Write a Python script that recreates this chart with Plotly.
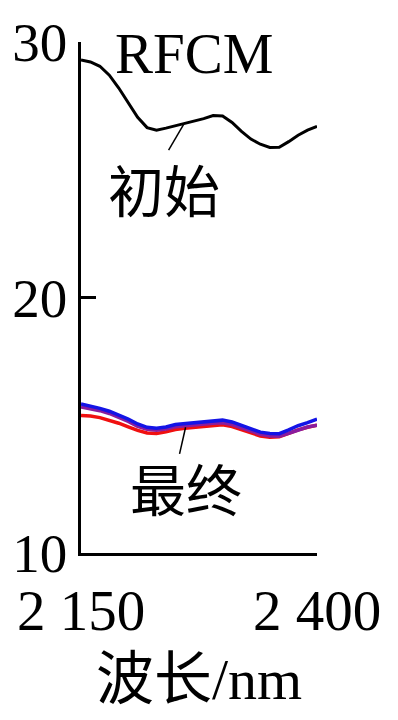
import plotly.graph_objects as go

wavelength = [2150, 2160, 2170, 2180, 2190, 2200, 2210, 2220, 2230, 2240, 2250, 2260, 2270,
              2280, 2290, 2300, 2310, 2320, 2330, 2340, 2350, 2360, 2370, 2380, 2390, 2400]
initial = [29.3, 29.22, 29.05, 28.7, 28.2, 27.6, 27.05, 26.65, 26.55, 26.63, 26.72, 26.8, 26.88,
           27.0, 27.12, 27.1, 26.85, 26.5, 26.2, 26.0, 25.87, 25.88, 26.1, 26.35, 26.55, 26.7]
final_blue = [15.83, 15.75, 15.66, 15.55, 15.41, 15.24, 15.05, 14.92, 14.88, 14.93, 15.03, 15.07, 15.1,
              15.14, 15.18, 15.2, 15.13, 15.0, 14.85, 14.73, 14.68, 14.67, 14.82, 14.98, 15.1, 15.24]
final_purple = [15.72, 15.66, 15.57, 15.46, 15.32, 15.15, 14.96, 14.84, 14.8, 14.85, 14.94, 14.98, 15.0,
                15.04, 15.08, 15.1, 15.03, 14.9, 14.76, 14.65, 14.58, 14.57, 14.68, 14.82, 14.93, 15.0]
final_red = [15.38, 15.36, 15.3, 15.2, 15.08, 14.94, 14.8, 14.7, 14.68, 14.74, 14.83, 14.88, 14.92,
             14.96, 15.0, 15.02, 14.95, 14.82, 14.68, 14.58, 14.53, 14.55, 14.68, 14.82, 14.92, 15.0]
x_ticks = [2150, 2400]
x_ticklabels = ["2 150", "2 400"]
y_ticks = [10, 20, 30]

FONT = "Liberation Serif, Noto Sans CJK SC, serif"

fig = go.Figure()
fig.add_trace(go.Scatter(x=wavelength, y=initial, mode="lines",
                         line=dict(color="black", width=3), showlegend=False))
fig.add_trace(go.Scatter(x=wavelength, y=final_red, mode="lines",
                         line=dict(color="#f01010", width=3.5), showlegend=False))
fig.add_trace(go.Scatter(x=wavelength, y=final_purple, mode="lines",
                         line=dict(color="#8a1c9e", width=3.5), showlegend=False))
fig.add_trace(go.Scatter(x=wavelength, y=final_blue, mode="lines",
                         line=dict(color="#1414e6", width=3.5), showlegend=False))

fig.add_annotation(x=2270, y=29.54, text="RFCM", showarrow=False,
                   font=dict(family=FONT, size=57, color="black"))
fig.add_annotation(x=2237.6, y=24.08, text="初始", showarrow=False,
                   font=dict(family=FONT, size=56, color="black"))
fig.add_annotation(x=2260.8, y=12.38, text="最终", showarrow=False,
                   font=dict(family=FONT, size=56, color="black"))
fig.add_shape(type="line", x0=2258.6, y0=26.77, x1=2242.8, y1=25.77,
              line=dict(color="black", width=1.5))
fig.add_shape(type="line", x0=2260.8, y0=14.92, x1=2254.4, y1=13.88,
              line=dict(color="black", width=1.5))

fig.update_layout(
    width=398, height=720,
    margin=dict(l=80, r=81, t=33, b=167),
    paper_bgcolor="white", plot_bgcolor="white",
    font=dict(family=FONT, size=56, color="black"),
    xaxis=dict(range=[2150, 2400], tickvals=x_ticks, ticktext=x_ticklabels,
               ticks="inside", ticklen=11, tickwidth=2.5, tickcolor="black",
               showline=True, linecolor="black", linewidth=2.5, showgrid=False,
               zeroline=False, tickfont=dict(size=57), ticklabelstandoff=6,
               title=dict(text="波长/nm", font=dict(size=58), standoff=18)),
    yaxis=dict(range=[10, 30], tickvals=y_ticks,
               ticks="inside", ticklen=15, tickwidth=2.5, tickcolor="black",
               showline=True, linecolor="black", linewidth=2.5, showgrid=False,
               zeroline=False, tickfont=dict(size=55)),
)

fig.write_html("out.html")
